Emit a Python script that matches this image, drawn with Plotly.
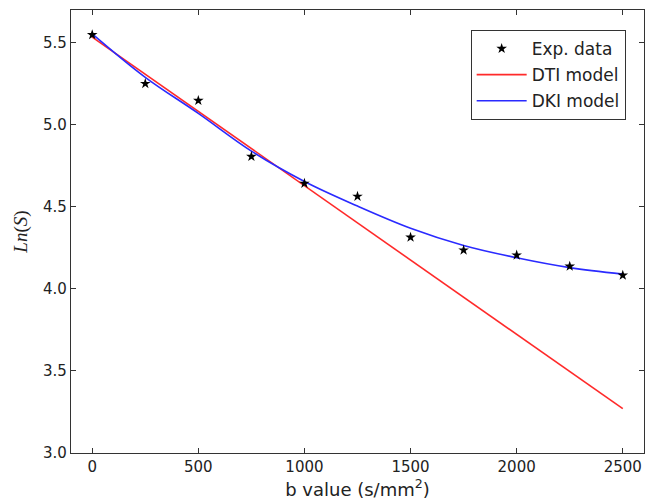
import plotly.graph_objects as go

# Data
b_values = [0, 250, 500, 750, 1000, 1250, 1500, 1750, 2000, 2250, 2500]
exp_data = [5.549, 5.251, 5.148, 4.807, 4.643, 4.564, 4.315, 4.236, 4.206, 4.138, 4.083]

dti_b = [0, 2500]
dti_model = [5.535, 3.270]

dki_b = [0, 250, 500, 750, 1000, 1250, 1500, 1750, 2000, 2250, 2500]
dki_model = [5.555, 5.29, 5.07, 4.84, 4.655, 4.505, 4.37, 4.265, 4.19, 4.13, 4.09]

x_ticks = [0, 500, 1000, 1500, 2000, 2500]
y_ticks = [3.0, 3.5, 4.0, 4.5, 5.0, 5.5]

fig = go.Figure()
fig.add_trace(go.Scatter(x=dti_b, y=dti_model, mode="lines", name="DTI model",
                         line=dict(color="#ff2a2a", width=1.6), legendgroup="b", legendrank=2))
fig.add_trace(go.Scatter(x=dki_b, y=dki_model, mode="lines", name="DKI model",
                         line=dict(color="#2a2aff", width=1.6, shape="spline"), legendgroup="c", legendrank=3))
fig.add_trace(go.Scatter(x=b_values, y=exp_data, mode="markers", name="Exp. data",
                         marker=dict(symbol="star", color="black", size=8), legendgroup="a", legendrank=1))

axis_common = dict(
    showgrid=False, zeroline=False, showline=True, linecolor="#333333", linewidth=1.2,
    mirror="ticks", ticks="inside", ticklen=5, tickwidth=1, tickcolor="#333333",
    tickfont=dict(family="DejaVu Sans", size=15, color="#222222"),
)

fig.update_layout(
    width=654, height=503,
    margin=dict(l=71, r=10, t=10, b=50),
    plot_bgcolor="white", paper_bgcolor="white",
    xaxis=dict(range=[-100, 2600], tickvals=x_ticks, ticktext=[str(v) for v in x_ticks],
               title=dict(text="b value (s/mm<sup>2</sup>)", font=dict(family="DejaVu Sans", size=18, color="#222222"),
                          standoff=3),
               **axis_common),
    yaxis=dict(range=[3.0, 5.7], tickvals=y_ticks, ticktext=[f"{v:.1f}" for v in y_ticks],
               title=dict(text="<i>Ln</i>(<i>S</i>)", font=dict(family="Liberation Serif", size=19, color="#222222"),
                          standoff=10),
               **axis_common),
    legend=dict(x=0.968, y=0.955, xanchor="right", yanchor="top",
                bordercolor="#333333", borderwidth=1, bgcolor="white",
                font=dict(family="DejaVu Sans", size=17, color="#222222"),
                tracegroupgap=1, itemwidth=50),
    showlegend=True,
)

fig.write_html("out.html")
